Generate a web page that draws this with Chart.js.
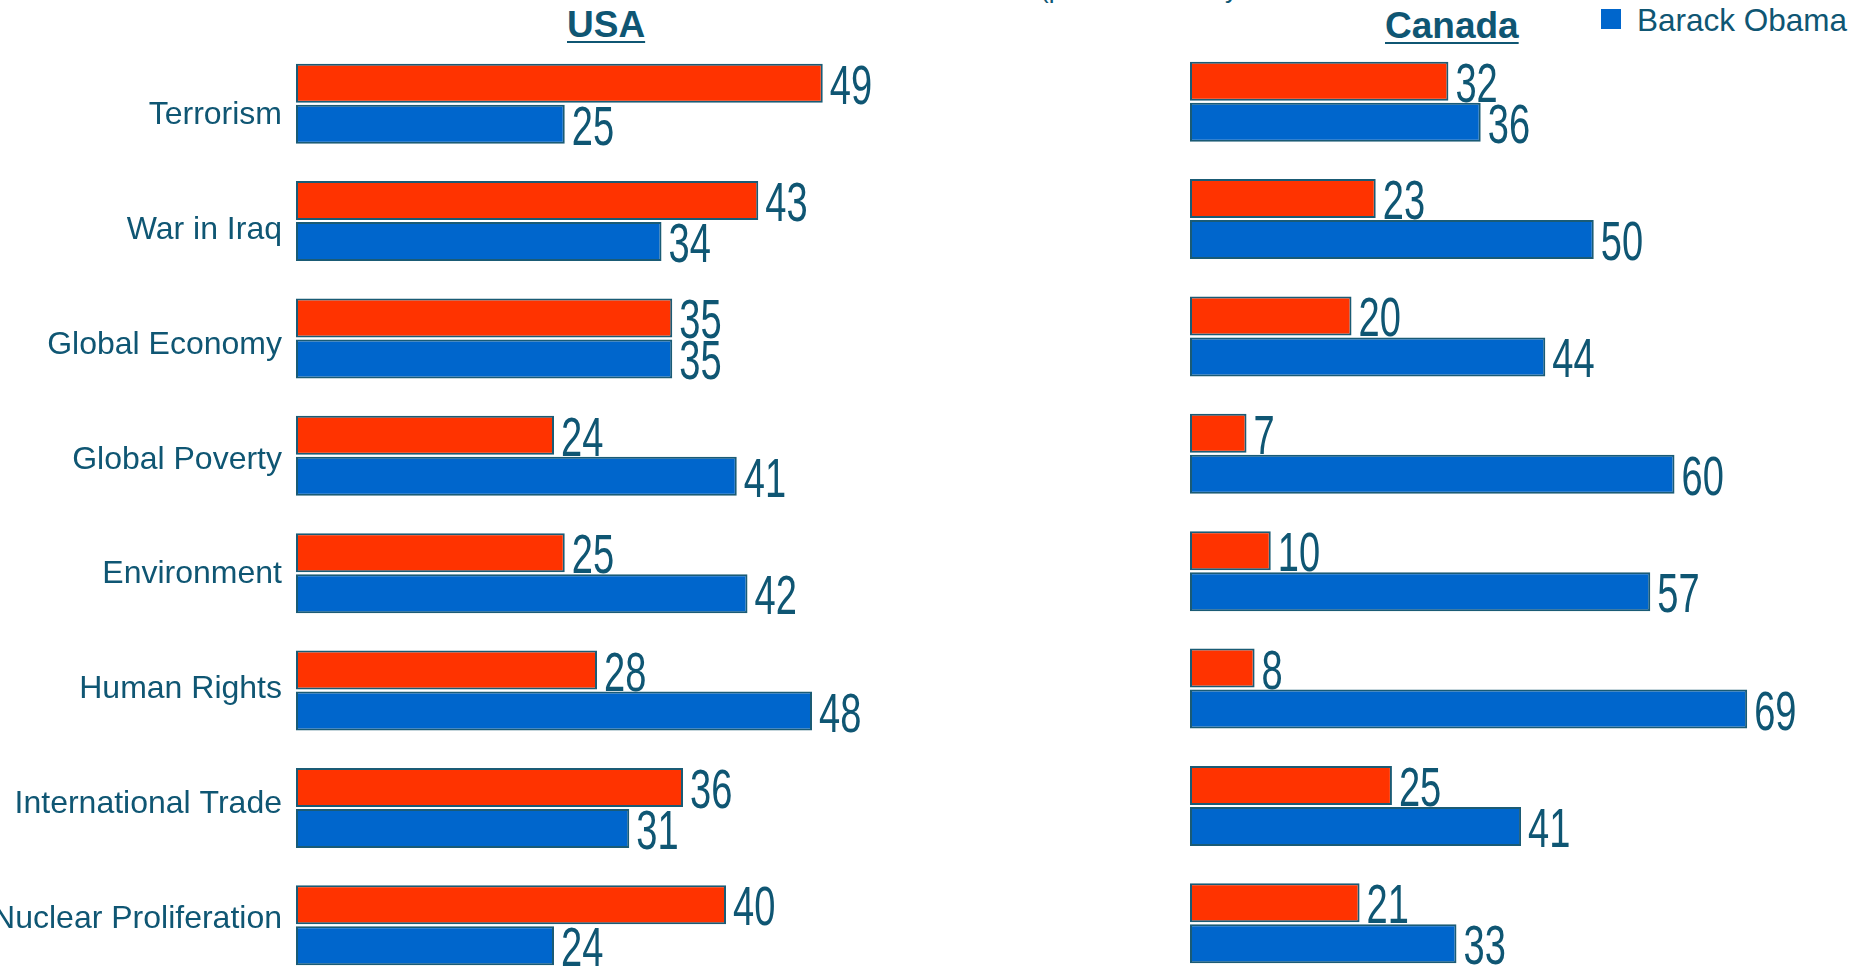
<!DOCTYPE html>
<html>
<head>
<meta charset="utf-8">
<script src="https://cdn.jsdelivr.net/npm/chart.js@4.4.1/dist/chart.umd.min.js"></script>
<style>
  html, body { margin: 0; padding: 0; background: #fff; width: 1862px; height: 973px; overflow: hidden; }
  body { position: relative; }
  .txt { position: absolute; font-family: 'Liberation Sans', Arial, sans-serif; color: #0f5673; white-space: nowrap; }
  .country { font-size: 37px; line-height: 37px; font-weight: bold; text-decoration: underline; text-decoration-thickness: 2px; text-underline-offset: 3.5px; }
  canvas { position: absolute; }
</style>
</head>
<body>
<div class="txt" style="left:1040px; top:-24px; font-size:26px; line-height:26px;">(percent who say</div>
<div class="txt country" style="left:567px; top:6px;">USA</div>
<div class="txt country" style="left:1385px; top:7px;">Canada</div>
<div style="position:absolute; left:1601px; top:9px; width:20px; height:20px; background:#0066cc;"></div>
<div class="txt" style="left:1637px; top:5px; font-size:31.5px; line-height:31.5px;">Barack Obama</div>

<canvas id="usa" width="941" height="939" style="left:0; top:45px;"></canvas>
<canvas id="canada" width="646" height="939" style="left:1190px; top:43px;"></canvas>

<script>
const categories = ['Terrorism', 'War in Iraq', 'Global Economy', 'Global Poverty', 'Environment', 'Human Rights', 'International Trade', 'Nuclear Proliferation'];
const seriesNames = ['John McCain', 'Barack Obama'];
const usaMcCain = [49, 43, 35, 24, 25, 28, 36, 40];
const usaObama = [25, 34, 35, 41, 42, 48, 31, 24];
const canadaMcCain = [32, 23, 20, 7, 10, 8, 25, 21];
const canadaObama = [36, 50, 44, 60, 57, 69, 41, 33];

const TEXT = '#0f5673';
const RED = '#ff3300';
const BLUE = '#0066cc';
const EDGE = '#1a5b75';
const FONT = "'Liberation Sans', Arial, sans-serif";

// numbers at the end of each bar, narrow and tall like the original
const valueLabels = {
    id: 'valueLabels',
    afterDatasetsDraw(chart) {
        const ctx = chart.ctx;
        ctx.save();
        ctx.fillStyle = TEXT;
        ctx.font = '56px ' + FONT;
        ctx.textBaseline = 'alphabetic';
        chart.data.datasets.forEach((ds, i) => {
            chart.getDatasetMeta(i).data.forEach((bar, j) => {
                const bottom = bar.y + bar.height / 2;
                ctx.save();
                ctx.translate(bar.x + 7, bottom + 1);
                ctx.scale(0.68, 1);
                ctx.fillText(ds.data[j], 0, 0);
                ctx.restore();
            });
        });
        ctx.restore();
    }
};

function datasets(red, blue) {
    return [
        { label: seriesNames[0], data: red, backgroundColor: RED, borderColor: EDGE, borderWidth: 2, borderSkipped: false },
        { label: seriesNames[1], data: blue, backgroundColor: BLUE, borderColor: EDGE, borderWidth: 2, borderSkipped: false }
    ];
}

function makeChart(id, red, blue, xMax, withLabels) {
    const scales = {
        x: { min: 0, max: xMax, display: false },
        y: { type: 'category', display: false }
    };
    if (withLabels) {
        // separate axis just for the category names, which sit on their own spacing
        scales.names = {
            type: 'linear', position: 'left', reverse: true,
            offset: false, bounds: 'ticks', beginAtZero: false,
            min: -0.613, max: 7.565,
            grid: { display: false, offset: false }, border: { display: false },
            ticks: {
                stepSize: 1, includeBounds: true, autoSkip: false, padding: 6,
                color: TEXT, font: { family: FONT, size: 32 },
                callback: v => Number.isInteger(v) ? categories[v] : ''
            },
            afterFit: s => {
                s.width = 296;
                s.paddingTop = 0;
                s.paddingBottom = 0;
            }
        };
    }
    return new Chart(document.getElementById(id), {
        type: 'bar',
        data: { labels: categories, datasets: datasets(red, blue) },
        options: {
            indexAxis: 'y',
            responsive: false,
            animation: false,
            layout: { padding: 0 },
            categoryPercentage: 0.7,
            barPercentage: 0.95,
            scales: scales,
            plugins: { legend: { display: false }, tooltip: { enabled: false } }
        },
        plugins: [valueLabels]
    });
}

makeChart('usa', usaMcCain, usaObama, 60, true);
makeChart('canada', canadaMcCain, canadaObama, 80, false);
</script>
</body>
</html>
